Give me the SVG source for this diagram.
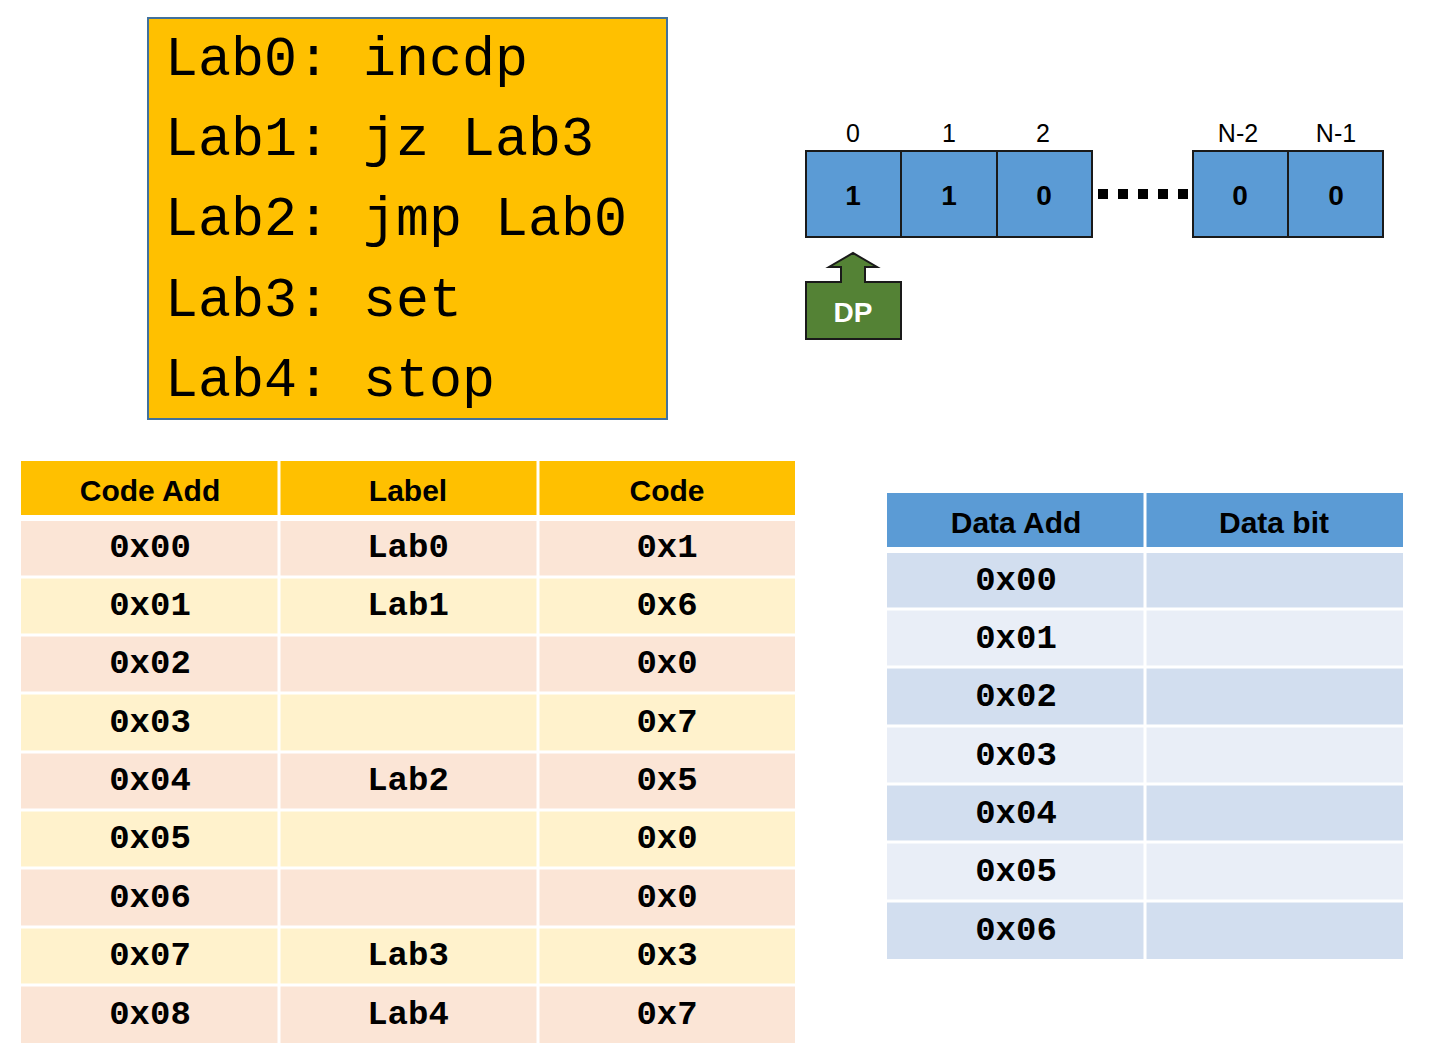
<svg xmlns="http://www.w3.org/2000/svg" width="1436" height="1056" viewBox="0 0 1436 1056">
<style>
.mono{font-family:"Liberation Mono","Courier New",monospace;}
.code{font-size:55px;fill:#000;}
.cell{fill:#5B9BD5;stroke:#1a1a1a;stroke-width:2;}
.idx{font-family:"Liberation Sans",Arial,sans-serif;font-size:25px;text-anchor:middle;fill:#000;}
.val{font-family:"Liberation Sans",Arial,sans-serif;font-size:28px;font-weight:bold;text-anchor:middle;fill:#000;}
.hdr{font-family:"Liberation Sans",Arial,sans-serif;font-size:30px;font-weight:bold;text-anchor:middle;fill:#000;}
.td{font-family:"Liberation Mono","Courier New",monospace;font-size:34px;font-weight:bold;text-anchor:middle;fill:#000;}
.g{stroke:#fff;stroke-width:3;}
.pe{fill:#FBE5D6;}
.ye{fill:#FFF2CC;}
.bd{fill:#D2DEEF;}
.bl{fill:#E9EEF7;}
</style>
<rect width="1436" height="1056" fill="#fff"/>

<g id="program">
<rect x="148" y="18" width="519" height="401" fill="#FFC000" stroke="#41719C" stroke-width="2"/>
<text class="mono code" x="165" y="75" xml:space="preserve">Lab0: incdp</text>
<text class="mono code" x="165" y="155" xml:space="preserve">Lab1: jz Lab3</text>
<text class="mono code" x="165" y="235" xml:space="preserve">Lab2: jmp Lab0</text>
<text class="mono code" x="165" y="316" xml:space="preserve">Lab3: set</text>
<text class="mono code" x="165" y="396" xml:space="preserve">Lab4: stop</text>
</g>

<g id="memory">
<rect class="cell" x="806" y="151" width="95" height="86"/>
<rect class="cell" x="901" y="151" width="96" height="86"/>
<rect class="cell" x="997" y="151" width="95" height="86"/>
<rect class="cell" x="1193" y="151" width="95" height="86"/>
<rect class="cell" x="1288" y="151" width="95" height="86"/>
<text class="idx" x="853" y="142">0</text>
<text class="idx" x="949" y="142">1</text>
<text class="idx" x="1043" y="142">2</text>
<text class="idx" x="1238" y="142">N-2</text>
<text class="idx" x="1336" y="142">N-1</text>
<text class="val" x="853" y="205">1</text>
<text class="val" x="949" y="205">1</text>
<text class="val" x="1044" y="205">0</text>
<text class="val" x="1240" y="205">0</text>
<text class="val" x="1336" y="205">0</text>
<line x1="1098" y1="194" x2="1188" y2="194" stroke="#000" stroke-width="10" stroke-dasharray="10 10"/>
</g>

<g id="dp">
<path d="M806,282 H841 V267 H829 L853,253 L877,267 H865 V282 H901 V339 H806 Z" fill="#548235" stroke="#1a1a1a" stroke-width="2" stroke-linejoin="miter"/>
<text x="853" y="322" font-family="'Liberation Sans',Arial,sans-serif" font-size="28" font-weight="bold" fill="#fff" text-anchor="middle">DP</text>
</g>

<g id="code-table">
<rect x="21" y="461" width="774" height="56" fill="#FFC000"/>
<rect class="pe" x="21" y="519" width="774" height="58"/>
<rect class="ye" x="21" y="577" width="774" height="58"/>
<rect class="pe" x="21" y="635" width="774" height="58"/>
<rect class="ye" x="21" y="693" width="774" height="59"/>
<rect class="pe" x="21" y="752" width="774" height="58"/>
<rect class="ye" x="21" y="810" width="774" height="58"/>
<rect class="pe" x="21" y="868" width="774" height="59"/>
<rect class="ye" x="21" y="927" width="774" height="58"/>
<rect class="pe" x="21" y="985" width="774" height="58"/>
<line x1="21" y1="518" x2="795" y2="518" stroke="#fff" stroke-width="6"/>
<line class="g" x1="21" y1="577" x2="795" y2="577"/>
<line class="g" x1="21" y1="635" x2="795" y2="635"/>
<line class="g" x1="21" y1="693" x2="795" y2="693"/>
<line class="g" x1="21" y1="752" x2="795" y2="752"/>
<line class="g" x1="21" y1="810" x2="795" y2="810"/>
<line class="g" x1="21" y1="868" x2="795" y2="868"/>
<line class="g" x1="21" y1="927" x2="795" y2="927"/>
<line class="g" x1="21" y1="985" x2="795" y2="985"/>
<line class="g" x1="279" y1="461" x2="279" y2="1043"/>
<line class="g" x1="538" y1="461" x2="538" y2="1043"/>
<text class="hdr" x="150" y="501">Code Add</text>
<text class="hdr" x="408" y="501">Label</text>
<text class="hdr" x="667" y="501">Code</text>
<text class="td" x="150" y="557">0x00</text><text class="td" x="408" y="557">Lab0</text><text class="td" x="667" y="557">0x1</text>
<text class="td" x="150" y="615">0x01</text><text class="td" x="408" y="615">Lab1</text><text class="td" x="667" y="615">0x6</text>
<text class="td" x="150" y="673">0x02</text><text class="td" x="667" y="673">0x0</text>
<text class="td" x="150" y="732">0x03</text><text class="td" x="667" y="732">0x7</text>
<text class="td" x="150" y="790">0x04</text><text class="td" x="408" y="790">Lab2</text><text class="td" x="667" y="790">0x5</text>
<text class="td" x="150" y="848">0x05</text><text class="td" x="667" y="848">0x0</text>
<text class="td" x="150" y="907">0x06</text><text class="td" x="667" y="907">0x0</text>
<text class="td" x="150" y="965">0x07</text><text class="td" x="408" y="965">Lab3</text><text class="td" x="667" y="965">0x3</text>
<text class="td" x="150" y="1024">0x08</text><text class="td" x="408" y="1024">Lab4</text><text class="td" x="667" y="1024">0x7</text>
</g>

<g id="data-table">
<rect x="887" y="493" width="516" height="56" fill="#5B9BD5"/>
<rect class="bd" x="887" y="551" width="516" height="58"/>
<rect class="bl" x="887" y="609" width="516" height="58"/>
<rect class="bd" x="887" y="667" width="516" height="59"/>
<rect class="bl" x="887" y="726" width="516" height="58"/>
<rect class="bd" x="887" y="784" width="516" height="58"/>
<rect class="bl" x="887" y="842" width="516" height="59"/>
<rect class="bd" x="887" y="901" width="516" height="58"/>
<line x1="887" y1="550" x2="1403" y2="550" stroke="#fff" stroke-width="6"/>
<line class="g" x1="887" y1="609" x2="1403" y2="609"/>
<line class="g" x1="887" y1="667" x2="1403" y2="667"/>
<line class="g" x1="887" y1="726" x2="1403" y2="726"/>
<line class="g" x1="887" y1="784" x2="1403" y2="784"/>
<line class="g" x1="887" y1="842" x2="1403" y2="842"/>
<line class="g" x1="887" y1="901" x2="1403" y2="901"/>
<line class="g" x1="1145" y1="493" x2="1145" y2="959"/>
<text class="hdr" x="1016" y="533">Data Add</text>
<text class="hdr" x="1274" y="533">Data bit</text>
<text class="td" x="1016" y="590">0x00</text>
<text class="td" x="1016" y="648">0x01</text>
<text class="td" x="1016" y="706">0x02</text>
<text class="td" x="1016" y="765">0x03</text>
<text class="td" x="1016" y="823">0x04</text>
<text class="td" x="1016" y="881">0x05</text>
<text class="td" x="1016" y="940">0x06</text>
</g>
</svg>
